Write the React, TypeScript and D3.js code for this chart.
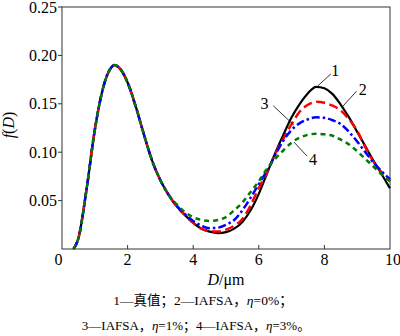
import React from "react";
import * as d3 from "d3";

// D grid (µm)
const dGrid = [0.35, 0.5, 0.75, 1.0, 1.25, 1.5, 1.6, 1.75, 2.0, 2.25, 2.5, 2.75, 3.0, 3.25, 3.5, 3.75, 4.0, 4.25, 4.5, 4.75, 5.0, 5.25, 5.5, 5.75, 6.0, 6.25, 6.5, 6.75, 7.0, 7.25, 7.5, 7.75, 8.0, 8.25, 8.5, 8.75, 9.0, 9.25, 9.5, 9.75, 10.0];

// 1 — true values
const trueVals = [0, 0.011, 0.062, 0.123, 0.166, 0.1875, 0.19, 0.187, 0.172, 0.147, 0.118, 0.091, 0.071, 0.056, 0.044, 0.035, 0.027, 0.021, 0.018, 0.0165, 0.0175, 0.021, 0.028, 0.040, 0.057, 0.078, 0.099, 0.118, 0.136, 0.150, 0.161, 0.1675, 0.166, 0.160, 0.149, 0.136, 0.121, 0.106, 0.091, 0.077, 0.0627];
// 2 — IAFSA, η=0%
const eta0Vals = [0, 0.011, 0.062, 0.123, 0.166, 0.1875, 0.19, 0.187, 0.172, 0.147, 0.118, 0.091, 0.071, 0.056, 0.044, 0.035, 0.027, 0.021, 0.0185, 0.018, 0.020, 0.024, 0.031, 0.045, 0.063, 0.079, 0.098, 0.114, 0.129, 0.142, 0.149, 0.152, 0.151, 0.148, 0.143, 0.134, 0.122, 0.105, 0.090, 0.079, 0.070];
// 3 — IAFSA, η=1%
const eta1Vals = [0, 0.011, 0.062, 0.123, 0.166, 0.1875, 0.19, 0.187, 0.172, 0.147, 0.118, 0.091, 0.071, 0.056, 0.0445, 0.036, 0.029, 0.024, 0.0215, 0.022, 0.025, 0.030, 0.040, 0.053, 0.067, 0.081, 0.097, 0.112, 0.123, 0.130, 0.134, 0.136, 0.1355, 0.133, 0.129, 0.121, 0.111, 0.100, 0.089, 0.080, 0.072];
// 4 — IAFSA, η=3%
const eta3Vals = [0, 0.011, 0.062, 0.123, 0.166, 0.1875, 0.19, 0.187, 0.172, 0.147, 0.118, 0.091, 0.071, 0.056, 0.046, 0.038, 0.033, 0.030, 0.029, 0.030, 0.033, 0.040, 0.048, 0.059, 0.070, 0.083, 0.093, 0.102, 0.110, 0.115, 0.118, 0.119, 0.1185, 0.117, 0.113, 0.108, 0.101, 0.093, 0.085, 0.077, 0.070];

const xTicks = [0, 2, 4, 6, 8, 10];
const yTicks = [0.05, 0.1, 0.15, 0.2, 0.25];

const seriesColors = ["#000000", "#ff0000", "#0000ff", "#007a00"];
const seriesDash = ["none", "9,4.5", "8,3,2.5,3", "5,4"];
const seriesWidth = [2.2, 2.5, 2.5, 2.5];

// annotation labels: [label, label D, label f, line start D, line start f, line end D, line end f]
const annotations: [string, number, number, number, number, number, number][] = [
  ["1", 8.33, 0.184, 7.8, 0.1685, 8.2, 0.181],
  ["2", 9.17, 0.165, 8.55, 0.147, 8.98, 0.163],
  ["3", 6.17, 0.150, 6.44, 0.148, 7.07, 0.128],
  ["4", 7.65, 0.092, 7.47, 0.096, 7.07, 0.1105],
];

const serif: React.CSSProperties = { fontFamily: '"Liberation Serif", "Times New Roman", serif' };
const captionFont: React.CSSProperties = { fontFamily: '"Liberation Serif", "Noto Sans CJK SC", serif' };

export default function App() {
  const x = d3.scaleLinear().domain([0, 10]).range([62, 390]);
  const y = d3.scaleLinear().domain([0, 0.25]).range([249, 7]);
  const all = [trueVals, eta0Vals, eta1Vals, eta3Vals];
  const line = d3
    .line<number>()
    .x((_, i) => x(dGrid[i]))
    .y((v) => y(v))
    .curve(d3.curveMonotoneX);

  return (
    <svg
      width={400}
      height={336}
      style={{ position: "absolute", left: 0, top: 0, background: "#fff" }}
    >
      <rect x={0} y={0} width={400} height={336} fill="#fff" />
      {/* frame */}
      <rect x={x(0)} y={y(0.25)} width={x(10) - x(0)} height={y(0) - y(0.25)} fill="none" stroke="#333" strokeWidth={1} />
      {/* x ticks (inward) */}
      {xTicks.map((t) => (
        <g key={"xt" + t}>
          {t > 0 && t < 10 && <line x1={x(t)} x2={x(t)} y1={y(0)} y2={y(0) - 4} stroke="#333" strokeWidth={1} />}
          <text style={serif} x={x(t) + (t === 0 ? -3.5 : t === 10 ? 3 : 0)} y={265} fontSize={16} textAnchor="middle">{t}</text>
        </g>
      ))}
      {/* y ticks (outward) */}
      {yTicks.map((t) => (
        <g key={"yt" + t}>
          <line x1={x(0) - 4} x2={x(0)} y1={y(t)} y2={y(t)} stroke="#333" strokeWidth={1} />
          <text style={serif} x={57} y={y(t)} fontSize={16} textAnchor="end" dominantBaseline="central">{t.toFixed(2)}</text>
        </g>
      ))}
      {/* curves */}
      {all.map((vals, i) => (
        <path
          key={"s" + i}
          d={line(vals) || ""}
          fill="none"
          stroke={seriesColors[i]}
          strokeWidth={seriesWidth[i]}
          strokeDasharray={seriesDash[i]}
          strokeLinejoin="round"
        />
      ))}
      {/* annotations */}
      {annotations.map(([lab, ld, lf, sd, sf, ed, ef]) => (
        <g key={"a" + lab}>
          <line x1={x(sd)} y1={y(sf)} x2={x(ed)} y2={y(ef)} stroke="#000" strokeWidth={0.8} />
          <text style={serif} x={x(ld)} y={y(lf)} fontSize={16} textAnchor="middle" dominantBaseline="central">{lab}</text>
        </g>
      ))}
      {/* y label */}
      <text style={serif} transform={`translate(14,${125}) rotate(-90)`} fontSize={16} textAnchor="middle">
        <tspan fontStyle="italic">f</tspan>(<tspan fontStyle="italic">D</tspan>)
      </text>
      {/* x label */}
      <text style={serif} x={226} y={285} fontSize={16} textAnchor="middle">
        <tspan fontStyle="italic">D</tspan>/μm
      </text>
      {/* caption */}
      <text style={captionFont} x={203} y={304.5} fontSize={13.5} textAnchor="middle">
        1—真值；2—IAFSA，<tspan fontStyle="italic">η</tspan>=0%；
      </text>
      <text style={captionFont} x={196} y={329.5} fontSize={13} textAnchor="middle">
        3—IAFSA，<tspan fontStyle="italic">η</tspan>=1%；4—IAFSA，<tspan fontStyle="italic">η</tspan>=3%。
      </text>
    </svg>
  );
}
